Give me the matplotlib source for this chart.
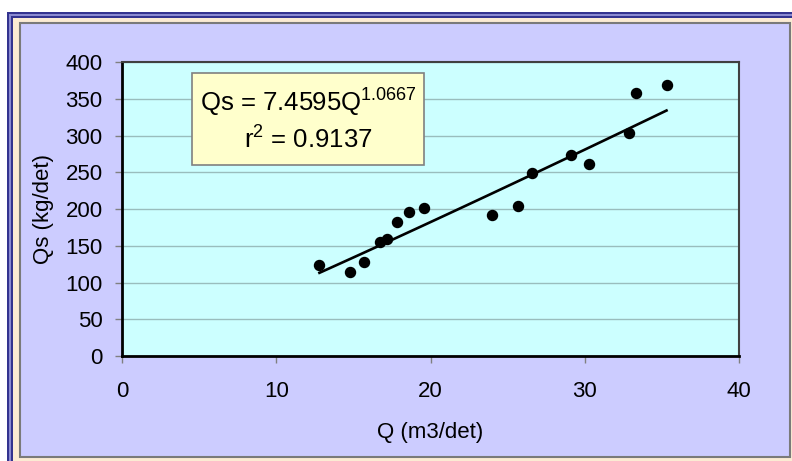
import matplotlib
matplotlib.use("Agg")
import matplotlib.pyplot as plt
import numpy as np
from matplotlib.patches import Rectangle

# data
q_values = [12.8, 14.8, 15.7, 16.7, 17.2, 17.8, 18.6, 19.6,
            24.0, 25.7, 26.6, 29.1, 30.3, 32.9, 33.3, 35.3]
qs_values = [124, 114, 128, 155, 159, 182, 196, 201,
             192, 204, 249, 273, 261, 303, 358, 369]
fit_a = 7.4595
fit_b = 1.0667
r_squared = 0.9137
x_ticks = [0, 10, 20, 30, 40]
y_ticks = list(range(0, 401, 50))

plt.rcParams.update({
    "font.family": ["Liberation Sans", "DejaVu Sans"],
    "mathtext.fontset": "custom",
    "mathtext.rm": "Liberation Sans",
    "mathtext.it": "Liberation Sans",
})

W, H = 792, 461
fig = plt.figure(figsize=(W / 100, H / 100), dpi=100, facecolor="white")


def px_rect(x0, y0, x1, y1, **kw):
    # rectangle in pixel coords (y from top), kept behind the axes
    r = Rectangle((x0 / W, 1 - y1 / H), (x1 - x0) / W, (y1 - y0) / H,
                  transform=fig.transFigure, figure=fig, zorder=-10, **kw)
    fig.patches.append(r)


# frame around the chart
px_rect(7, 12, 800, 470, fc="#33338F", ec="none")
px_rect(9, 14, 800, 470, fc="#8A8AD0", ec="none")
px_rect(11, 16, 800, 470, fc="#33338F", ec="none")
px_rect(13, 18, 800, 470, fc="#FBEBD3", ec="none")
px_rect(20, 23, 790, 457, fc="#CCCCFF", ec="#7A7A7A", lw=1.5)

ax = fig.add_axes([122 / W, 1 - 356 / H, 617 / W, 294 / H])
ax.set_zorder(5)
ax.set_facecolor("#CCFFFF")
ax.set_xlim(0, 40)
ax.set_ylim(0, 400)
ax.set_xticks(x_ticks)
ax.set_yticks(y_ticks)
ax.yaxis.grid(True, color="#99BDBD", lw=1)
ax.set_axisbelow(True)

for side in ["left", "bottom"]:
    ax.spines[side].set_color("black")
    ax.spines[side].set_linewidth(2)
for side in ["top", "right"]:
    ax.spines[side].set_color("#404040")
    ax.spines[side].set_linewidth(1.5)

ax.tick_params(axis="both", direction="out", length=5, width=1,
               color="#808080", labelsize=16, labelcolor="black")
ax.tick_params(axis="x", pad=13)
ax.tick_params(axis="y", pad=9)

ax.set_xlabel("Q (m3/det)", fontsize=16)
ax.xaxis.set_label_coords(0.5, -0.259)
ax.xaxis.label.set_va("center")
ax.set_ylabel("Qs (kg/det)", fontsize=16)
ax.yaxis.set_label_coords(-0.128, 0.5)
ax.yaxis.label.set_va("center")

# points and power trend line
ax.scatter(q_values, qs_values, s=52, color="black", zorder=3)
qq = np.linspace(min(q_values), max(q_values), 100)
ax.plot(qq, fit_a * qq ** fit_b, color="black", lw=1.9, zorder=3)

# equation box
ax.add_patch(Rectangle((4.54, 260), 15.04, 125, fc="#FFFFCC", ec="#808080",
                       lw=1.2, zorder=4))
ax.text(12.06, 345, "Qs = %.4fQ$^{%.4f}$" % (fit_a, fit_b),
        ha="center", va="center", fontsize=18.5, zorder=5)
ax.text(12.06, 294, "r$^{2}$ = %.4f" % r_squared,
        ha="center", va="center", fontsize=18.5, zorder=5)

fig.savefig("out.png", dpi=100, facecolor="white")
